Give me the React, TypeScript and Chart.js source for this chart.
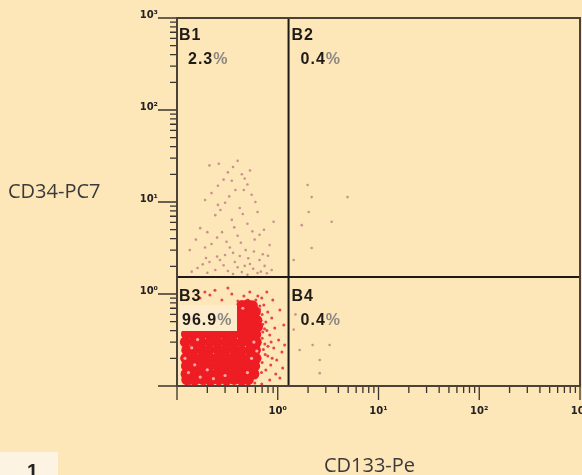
import React, { useEffect, useRef } from 'react';
import { Chart, registerables } from 'chart.js';

Chart.register(...registerables);

// ---- axis data ----
const tickValues = [0.1, 1, 10, 100, 1000];
const tickLabels = ['', '10⁰', '10¹', '10²', '10³'];
const minorMultipliers = [2, 3, 4, 5, 6, 7, 8, 9];
const xTitle = 'CD133-Pe';
const yTitle = 'CD34-PC7';
const panelLabel = '1';

// ---- gates ----
const gateX = 1.28;
const gateY = 1.53;
const quadrantNames = ['B1', 'B2', 'B3', 'B4'];
const quadrantValues = ['2.3', '0.4', '96.9', '0.4'];

// ---- events (x = CD133-Pe, y = CD34-PC7) ----
const corePoints: [number, number][] = [
  [0.124, 0.367], [0.147, 0.362], [0.178, 0.37], [0.211, 0.365], [0.256, 0.368], [0.305, 0.363], [0.368, 0.37], [0.44, 0.366], [0.528, 0.369], [0.605, 0.364],
  [0.121, 0.3], [0.149, 0.304], [0.175, 0.298], [0.214, 0.302], [0.252, 0.299], [0.309, 0.303], [0.364, 0.297], [0.443, 0.301], [0.522, 0.305], [0.612, 0.298],
  [0.125, 0.245], [0.146, 0.248], [0.179, 0.243], [0.209, 0.247], [0.257, 0.244], [0.302, 0.249], [0.37, 0.246], [0.436, 0.242], [0.531, 0.247], [0.6, 0.245],
  [0.122, 0.2], [0.148, 0.203], [0.176, 0.198], [0.213, 0.202], [0.254, 0.199], [0.307, 0.204], [0.366, 0.201], [0.442, 0.197], [0.525, 0.202], [0.608, 0.2],
  [0.124, 0.165], [0.147, 0.167], [0.177, 0.163], [0.21, 0.166], [0.255, 0.164], [0.304, 0.168], [0.369, 0.165], [0.438, 0.162], [0.529, 0.166], [0.59, 0.164],
  [0.123, 0.135], [0.149, 0.137], [0.178, 0.133], [0.212, 0.136], [0.253, 0.134], [0.306, 0.138], [0.365, 0.135], [0.441, 0.133], [0.52, 0.137], [0.58, 0.135],
  [0.125, 0.117], [0.15, 0.116], [0.18, 0.118], [0.215, 0.115], [0.258, 0.117], [0.31, 0.116], [0.37, 0.118], [0.44, 0.116], [0.51, 0.117],
  [0.4, 0.44], [0.47, 0.445], [0.55, 0.438], [0.63, 0.442],
  [0.4, 0.52], [0.47, 0.515], [0.55, 0.522], [0.62, 0.518],
  [0.41, 0.64], [0.47, 0.645], [0.55, 0.638], [0.6, 0.642],
  [0.44, 0.75], [0.5, 0.765], [0.56, 0.745],
];

const fringePoints: [number, number][] = [
  [0.727, 0.759], [0.796, 0.637], [0.872, 0.548], [0.761, 0.496], [0.934, 0.427], [0.833, 0.358], [1.02, 0.316],
  [0.744, 0.286], [0.913, 0.259], [1.1, 0.234], [0.796, 0.212], [0.977, 0.192], [0.852, 0.169], [1.12, 0.157],
  [0.761, 0.149], [0.955, 0.135], [0.833, 0.116], [0.694, 0.105], [1.05, 0.122], [1.17, 0.279], [0.711, 0.386],
  [0.893, 0.861], [0.694, 0.905], [0.779, 1.05], [0.634, 0.951], [1.05, 0.67], [1.147, 0.46],
  [0.169, 0.905], [0.212, 0.975], [0.279, 0.861], [0.35, 1.0], [0.461, 0.951], [0.528, 1.05], [0.238, 1.1],
  [0.32, 1.16], [0.402, 0.839], [0.189, 1.05],
  [0.134, 0.105], [0.189, 0.105], [0.267, 0.103], [0.421, 0.105], [0.592, 0.108],
  [0.606, 0.861], [0.664, 0.741], [0.505, 0.861],
  [0.7, 0.6], [0.74, 0.42], [0.7, 0.33], [0.72, 0.25], [0.7, 0.18], [0.69, 0.14], [0.78, 0.4],
  [0.8, 0.27], [0.75, 0.22], [0.68, 0.52], [0.86, 0.3], [0.88, 0.2], [0.66, 0.68], [0.71, 0.47],
];

const speckPoints: [number, number][] = [
  [0.13, 0.14], [0.15, 0.17], [0.12, 0.2], [0.17, 0.125], [0.14, 0.26], [0.2, 0.15], [0.23, 0.12],
  [0.3, 0.13], [0.5, 0.14], [0.55, 0.2], [0.58, 0.3], [0.45, 0.7], [0.62, 0.24], [0.16, 0.32],
];

const sparsePoints: [number, number][] = [
  [0.21, 25], [0.32, 21], [0.47, 18], [0.255, 15], [0.38, 13.5], [0.55, 12], [0.19, 10.5], [0.3, 9.8],
  [0.42, 8.6], [0.63, 7.8], [0.24, 7.2], [0.35, 6.4], [0.5, 5.8], [0.17, 5.2], [0.28, 4.7], [0.4, 4.3],
  [0.59, 3.9], [0.22, 3.5], [0.335, 3.2], [0.48, 3.0], [0.71, 2.7], [0.194, 2.46], [0.267, 2.34],
  [0.375, 2.23], [0.53, 2.12], [0.74, 2.02], [0.16, 1.92], [0.24, 1.82], [0.32, 1.78], [0.44, 1.73],
  [0.63, 1.69], [0.87, 1.82], [0.3, 2.65], [0.42, 2.59], [0.66, 2.34], [0.83, 3.4], [0.134, 3.0],
  [0.35, 17], [0.255, 9.3], [0.46, 13.5], [0.53, 22], [0.4, 28], [0.73, 5.0], [0.91, 6.1], [0.154, 3.9],
  [0.2, 4.7], [0.21, 2.23], [0.47, 2.02],
  [0.26, 26], [0.36, 24], [0.44, 20], [0.29, 17.5], [0.5, 15.5], [0.22, 12.5], [0.33, 11.5], [0.6, 10],
  [0.27, 8.2], [0.45, 7.4], [0.37, 5.3], [0.56, 4.8], [0.25, 4.1], [0.66, 4.4], [0.31, 3.7], [0.43, 3.6],
  [0.19, 3.2], [0.58, 2.9], [0.36, 2.8], [0.25, 2.55], [0.51, 2.45], [0.8, 2.6], [0.18, 2.1], [0.29, 2.05],
  [0.4, 1.95], [0.57, 1.88], [0.68, 1.75], [0.2, 1.7], [0.36, 1.65], [0.5, 1.62], [0.78, 1.68], [0.14, 1.75],
  [1.98, 15.3], [2.17, 11.3], [2.03, 7.8], [1.73, 5.6], [2.17, 3.16], [1.44, 2.34], [3.43, 6.1], [4.93, 11.3],
  [1.65, 0.246], [2.61, 0.192], [2.22, 0.279], [3.27, 0.279], [2.61, 0.138], [1.44, 0.41], [1.5, 0.6],
];

const BG = '#FDE6B8';

const toXY = (arr: [number, number][]) => arr.map(([x, y]) => ({ x, y }));

const decorPlugin = {
  id: 'decor',
  afterDatasetsDraw(chart: any) {
    const { ctx, chartArea: a, scales } = chart;
    const xs = scales.x;
    const ys = scales.y;
    ctx.save();
    // ticks
    ctx.strokeStyle = '#3a342c';
    ctx.lineWidth = 1.3;
    ctx.beginPath();
    for (let i = 0; i < tickValues.length - 1; i++) {
      for (const m of minorMultipliers) {
        const v = tickValues[i] * m;
        const px = xs.getPixelForValue(v);
        ctx.moveTo(px, a.bottom);
        ctx.lineTo(px, a.bottom + 7);
        const py = ys.getPixelForValue(v);
        ctx.moveTo(a.left - 7, py);
        ctx.lineTo(a.left, py);
      }
    }
    for (const v of tickValues) {
      const px = xs.getPixelForValue(v);
      ctx.moveTo(px, a.bottom);
      ctx.lineTo(px, a.bottom + 14);
      const py = ys.getPixelForValue(v);
      ctx.moveTo(a.left - 19, py);
      ctx.lineTo(a.left, py);
    }
    ctx.stroke();
    // border
    ctx.strokeStyle = '#4a4236';
    ctx.lineWidth = 2;
    ctx.strokeRect(a.left, a.top, a.right - a.left, a.bottom - a.top);

    // quadrant labels
    const gx = xs.getPixelForValue(gateX);
    const gy = ys.getPixelForValue(gateY);
    const spots = [
      [a.left + 2, a.top + 22],
      [gx + 3, a.top + 22],
      [a.left + 2, gy + 24],
      [gx + 3, gy + 24],
    ];
    // box behind 96.9%
    ctx.fillStyle = '#FCECCB';
    ctx.fillRect(a.left + 2, gy + 28, 58, 26);
    ctx.font = 'bold 16px "Liberation Sans", Arial, sans-serif';
    (ctx as any).letterSpacing = '1px';
    ctx.textBaseline = 'alphabetic';
    ctx.textAlign = 'left';
    for (let i = 0; i < 4; i++) {
      const [sx, sy] = spots[i];
      ctx.fillStyle = '#1f1c18';
      ctx.fillText(quadrantNames[i], sx, sy);
      const vx = i === 2 ? sx + 3 : sx + 9;
      ctx.fillText(quadrantValues[i], vx, sy + 24);
      const w = ctx.measureText(quadrantValues[i]).width;
      ctx.fillStyle = '#8c8780';
      ctx.fillText('%', vx + w, sy + 24);
    }
    ctx.restore();
  },
  afterDraw(chart: any) {
    const { ctx, chartArea: a } = chart;
    ctx.save();
    ctx.fillStyle = '#3a3a3a';
    ctx.font = '20px "Open Sans", "Noto Sans", sans-serif';
    ctx.textBaseline = 'alphabetic';
    ctx.textAlign = 'left';
    ctx.fillText(yTitle, 8, 198);
    ctx.textAlign = 'center';
    ctx.fillText(xTitle, (a.left + a.right) / 2 - 9, 472);
    // panel number
    ctx.fillStyle = '#FDF3E2';
    ctx.fillRect(0, 452, 58, 23);
    ctx.fillStyle = '#222';
    ctx.font = 'bold 20px "Liberation Sans", Arial, sans-serif';
    ctx.textAlign = 'left';
    ctx.fillText(panelLabel, 27, 478);
    ctx.restore();
  },
};

export default function App() {
  const ref = useRef<HTMLCanvasElement | null>(null);
  useEffect(() => {
    if (!ref.current) return;
    const gateLine = (pts: { x: number; y: number }[]) => ({
      type: 'scatter' as const,
      data: pts,
      showLine: true,
      borderColor: '#1d1a16',
      borderWidth: 2,
      pointRadius: 0,
      order: 0,
    });
    const noPad = (s: any) => {
      s.paddingLeft = 0;
      s.paddingRight = 0;
      s.paddingTop = 0;
      s.paddingBottom = 0;
    };
    const tickFont = { family: '"DejaVu Sans", sans-serif', size: 10, weight: 'bold' };
    const chart = new Chart(ref.current, {
      type: 'scatter',
      data: {
        datasets: [
          gateLine([{ x: gateX, y: tickValues[0] }, { x: gateX, y: tickValues[tickValues.length - 1] }]),
          gateLine([{ x: tickValues[0], y: gateY }, { x: tickValues[tickValues.length - 1], y: gateY }]),
          { data: toXY(speckPoints), pointRadius: 1.6, backgroundColor: 'rgba(250,185,185,0.9)', borderWidth: 0, order: 1 },
          { data: toXY(fringePoints), pointRadius: 1.5, backgroundColor: 'rgba(226,40,52,0.85)', borderWidth: 0, order: 2 },
          { data: toXY(corePoints), pointRadius: 5.5, backgroundColor: '#EE1D23', borderWidth: 0, order: 3 },
          { data: toXY(sparsePoints), pointRadius: 1.3, backgroundColor: 'rgba(180,110,125,0.7)', borderWidth: 0, order: 4 },
        ] as any,
      },
      options: {
        animation: false,
        responsive: false,
        events: [],
        layout: { padding: { left: 0, right: 2, top: 18, bottom: 0 }, autoPadding: false },
        plugins: { legend: { display: false }, tooltip: { enabled: false } },
        scales: {
          x: {
            type: 'logarithmic',
            min: tickValues[0],
            max: tickValues[tickValues.length - 1],
            grid: { display: false, drawTicks: false },
            border: { display: false },
            afterBuildTicks: (s: any) => { s.ticks = tickValues.map((v) => ({ value: v })); },
            afterFit: (s: any) => { s.height = 89; noPad(s); },
            ticks: {
              autoSkip: false,
              maxRotation: 0,
              padding: 19,
              color: '#222',
              font: tickFont,
              callback: (_v: any, i: number) => tickLabels[i],
            },
          },
          y: {
            type: 'logarithmic',
            min: tickValues[0],
            max: tickValues[tickValues.length - 1],
            grid: { display: false, drawTicks: false },
            border: { display: false },
            afterBuildTicks: (s: any) => { s.ticks = tickValues.map((v) => ({ value: v })); },
            afterFit: (s: any) => { s.width = 177; noPad(s); },
            ticks: {
              autoSkip: false,
              padding: 19,
              labelOffset: -3,
              color: '#222',
              font: tickFont,
              callback: (_v: any, i: number) => tickLabels[i],
            },
          },
        },
      } as any,
      plugins: [decorPlugin],
    });
    return () => chart.destroy();
  }, []);
  return (
    <div style={{ position: 'fixed', left: 0, top: 0, width: 582, height: 475, background: BG }}>
      <canvas ref={ref} width={582} height={475} style={{ display: 'block', width: 582, height: 475 }} />
    </div>
  );
}
